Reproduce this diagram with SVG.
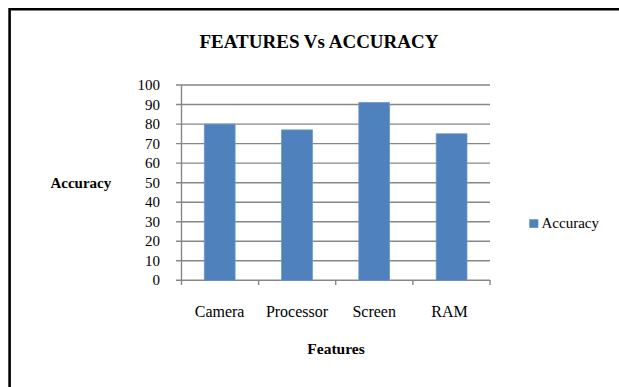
<svg xmlns="http://www.w3.org/2000/svg" width="619" height="387" viewBox="0 0 619 387">
<style>
.tick{font-size:15px;text-anchor:end}
.cat{font-size:16px;text-anchor:middle}
.bold{font-weight:bold}
.grid{stroke:#878787;stroke-width:1.4;fill:none}
.bar{fill:#4F81BD;stroke:#6A98D0;stroke-width:0.8}
</style>
<rect x="0" y="0" width="619" height="387" fill="#fff"/>
<path d="M9.6,390 V9.3 H622" fill="none" stroke="#000" stroke-width="2.6"/>
<g font-family="Liberation Serif, DejaVu Serif, serif" fill="#000">
<text x="319" y="47.7" font-size="19" text-anchor="middle" class="bold">FEATURES Vs ACCURACY</text>
<g id="gridlines">
<path class="grid" d="M176,85 H490 M176,104.5 H490 M176,124.1 H490 M176,143.6 H490 M176,163.1 H490 M176,182.7 H490 M176,202.2 H490 M176,221.7 H490 M176,241.2 H490 M176,260.8 H490 M176,280.3 H490"/>
<path class="grid" d="M181.5,85 V285 M258.6,280 V285 M335.7,280 V285 M412.9,280 V285 M490,280 V285"/>
</g>
<g id="ticks">
<text class="tick" x="160" y="90">100</text>
<text class="tick" x="160" y="109.5">90</text>
<text class="tick" x="160" y="129.1">80</text>
<text class="tick" x="160" y="148.6">70</text>
<text class="tick" x="160" y="168.1">60</text>
<text class="tick" x="160" y="187.7">50</text>
<text class="tick" x="160" y="207.2">40</text>
<text class="tick" x="160" y="226.7">30</text>
<text class="tick" x="160" y="246.2">20</text>
<text class="tick" x="160" y="265.8">10</text>
<text class="tick" x="160" y="285.3">0</text>
</g>
<g id="bar-camera"><rect class="bar" x="204.3" y="124.1" width="30.8" height="156.2"/><text class="cat" x="219.6" y="316.7">Camera</text></g>
<g id="bar-processor"><rect class="bar" x="281.6" y="129.9" width="30.8" height="150.4"/><text class="cat" x="297" y="316.7">Processor</text></g>
<g id="bar-screen"><rect class="bar" x="358.8" y="102.6" width="30.8" height="177.7"/><text class="cat" x="374.2" y="316.7">Screen</text></g>
<g id="bar-ram"><rect class="bar" x="436.2" y="133.8" width="30.8" height="146.5"/><text class="cat" x="449.5" y="316.7">RAM</text></g>
<text x="80.8" y="188.3" font-size="15" text-anchor="middle" class="bold">Accuracy</text>
<text x="336" y="353.5" font-size="15.5" text-anchor="middle" class="bold">Features</text>
<g id="legend">
<rect x="529.3" y="219.3" width="9" height="8.5" fill="#4F81BD"/>
<text x="541.5" y="228.3" font-size="15">Accuracy</text>
</g>
</g>
</svg>
